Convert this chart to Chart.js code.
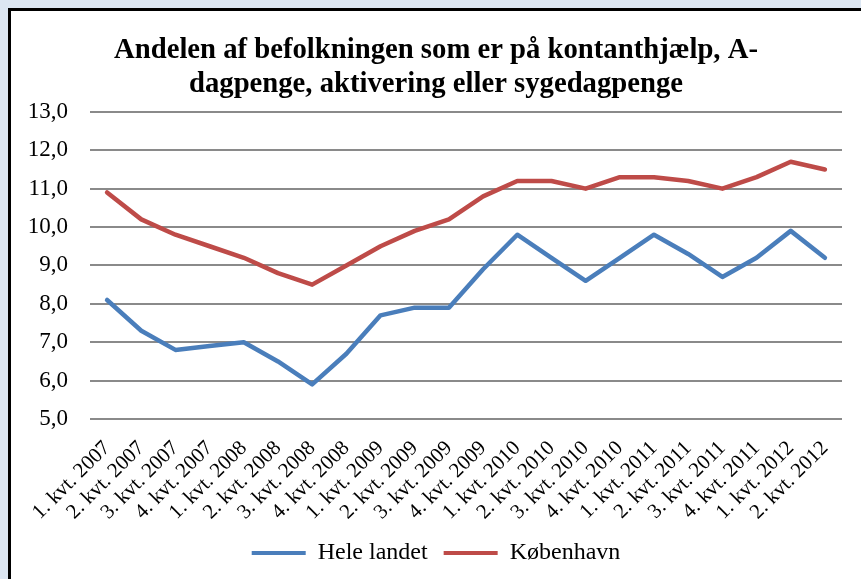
<!DOCTYPE html>
<html>
<head>
<meta charset="utf-8">
<script src="https://cdn.jsdelivr.net/npm/chart.js@4/dist/chart.umd.min.js"></script>
<style>
  html, body { margin: 0; padding: 0; }
  body { width: 861px; height: 579px; background: #dce6f2; overflow: hidden; position: relative; }
  #ramme { position: absolute; left: 8px; top: 8px; border-left: 3px solid #000; border-top: 3px solid #000; background: #fff; width: 850px; height: 568px; }
  canvas { display: block; }
</style>
</head>
<body>
<div id="ramme"><canvas id="graf" width="850" height="568"></canvas></div>
<script>
// Kvartaler på x-aksen
const kvartaler = [
  '1. kvt. 2007', '2. kvt. 2007', '3. kvt. 2007', '4. kvt. 2007',
  '1. kvt. 2008', '2. kvt. 2008', '3. kvt. 2008', '4. kvt. 2008',
  '1. kvt. 2009', '2. kvt. 2009', '3. kvt. 2009', '4. kvt. 2009',
  '1. kvt. 2010', '2. kvt. 2010', '3. kvt. 2010', '4. kvt. 2010',
  '1. kvt. 2011', '2. kvt. 2011', '3. kvt. 2011', '4. kvt. 2011',
  '1. kvt. 2012', '2. kvt. 2012'
];

// Andel i procent
const heleLandet = [8.1, 7.3, 6.8, 6.9, 7.0, 6.5, 5.9, 6.7, 7.7, 7.9, 7.9, 8.9, 9.8, 9.2, 8.6, 9.2, 9.8, 9.3, 8.7, 9.2, 9.9, 9.2];
const koebenhavn = [10.9, 10.2, 9.8, 9.5, 9.2, 8.8, 8.5, 9.0, 9.5, 9.9, 10.2, 10.8, 11.2, 11.2, 11.0, 11.3, 11.3, 11.2, 11.0, 11.3, 11.7, 11.5];

const serieNavne = ['Hele landet', 'København'];
const titelLinjer = ['Andelen af befolkningen som er på kontanthjælp, A-', 'dagpenge, aktivering eller sygedagpenge'];

const yMin = 5, yMax = 13, yTrin = 1;

const skrift = "'Liberation Serif', 'Times New Roman', serif";

const ctx = document.getElementById('graf').getContext('2d');
new Chart(ctx, {
  type: 'line',
  data: {
    labels: kvartaler,
    datasets: [
      {
        label: serieNavne[0],
        data: heleLandet,
        borderColor: '#4a7ebb',
        backgroundColor: '#4a7ebb',
        borderWidth: 4.5,
        pointRadius: 0,
        tension: 0,
        borderJoinStyle: 'round',
        borderCapStyle: 'round'
      },
      {
        label: serieNavne[1],
        data: koebenhavn,
        borderColor: '#be4b48',
        backgroundColor: '#be4b48',
        borderWidth: 4.5,
        pointRadius: 0,
        tension: 0,
        borderJoinStyle: 'round',
        borderCapStyle: 'round'
      }
    ]
  },
  options: {
    responsive: false,
    animation: false,
    devicePixelRatio: 1,
    layout: { padding: { left: 0, right: 0, top: 0, bottom: 4 } },
    plugins: {
      title: {
        display: true,
        text: titelLinjer,
        color: '#000',
        font: { family: skrift, size: 28.7, weight: 'bold', lineHeight: 1.2 },
        padding: { top: 22, bottom: 10 }
      },
      legend: {
        position: 'bottom',
        labels: {
          color: '#000',
          font: { family: skrift, size: 24 },
          boxWidth: 54,
          boxHeight: 4,
          padding: 16,
          generateLabels: chart => Chart.defaults.plugins.legend.labels.generateLabels(chart).map(l => ({ ...l, lineWidth: 0 }))
        }
      },
      tooltip: { enabled: false }
    },
    scales: {
      x: {
        offset: true,
        grid: { display: false },
        border: { display: false },
        ticks: {
          color: '#000',
          font: { family: skrift, size: 21 },
          autoSkip: false,
          maxRotation: 45,
          minRotation: 45,
          padding: 9
        },
        afterFit: scale => { scale.height = 106; }
      },
      y: {
        min: yMin,
        max: yMax,
        grid: { color: '#8a8a8a', lineWidth: 2, drawTicks: false },
        border: { display: false },
        ticks: {
          stepSize: yTrin,
          color: '#000',
          font: { family: skrift, size: 23 },
          padding: 22,
          callback: v => v.toFixed(1).replace('.', ',')
        },
        afterFit: scale => { scale.width = 79; }
      },
      // tom højre akse, kun som luft til højre for plotområdet
      yHoejre: {
        position: 'right',
        display: true,
        grid: { display: false },
        border: { display: false },
        ticks: { display: false },
        afterFit: scale => { scale.width = 19; }
      }
    }
  }
});
</script>
</body>
</html>
